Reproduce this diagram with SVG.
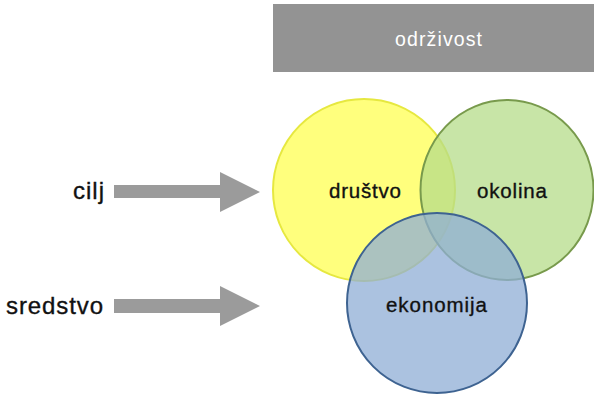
<svg xmlns="http://www.w3.org/2000/svg" width="594" height="395" viewBox="0 0 594 395">
  <style>
    .lbl { font-family: "Liberation Sans", Arial, sans-serif; fill: #111111; stroke: #111111; stroke-width: 0.35px; }
    .side { font-size: 24px; }
    .circ { font-size: 20.5px; }
    .head { font-size: 19.5px; fill: #ffffff; stroke: none; }
    .arrow { fill: #9b9b9b; }
  </style>
  <rect x="0" y="0" width="594" height="395" fill="#ffffff"/>
  <g id="header">
    <rect x="273" y="4" width="321" height="68" fill="#939393"/>
    <text class="lbl head" x="395" y="46" textLength="87" lengthAdjust="spacing">održivost</text>
  </g>
  <g id="drustvo">
    <circle cx="364" cy="190" r="91" fill="#ffff66" fill-opacity="0.85" stroke="#e6e840" stroke-width="2"/>
  </g>
  <g id="okolina">
    <ellipse cx="507" cy="190" rx="86.5" ry="90" fill="#b5dc8a" fill-opacity="0.75" stroke="#789a4c" stroke-width="2"/>
  </g>
  <g id="ekonomija">
    <circle cx="437" cy="303" r="90" fill="#8fadd6" fill-opacity="0.75" stroke="#3e6391" stroke-width="2"/>
  </g>
  <g id="labels">
    <text class="lbl circ" x="329" y="198" textLength="72" lengthAdjust="spacing">društvo</text>
    <text class="lbl circ" x="477" y="198" textLength="70" lengthAdjust="spacing">okolina</text>
    <text class="lbl circ" x="386" y="312" textLength="101" lengthAdjust="spacing">ekonomija</text>
  </g>
  <g id="cilj">
    <text class="lbl side" x="73" y="199" textLength="31" lengthAdjust="spacing">cilj</text>
  </g>
  <g id="sredstvo">
    <text class="lbl side" x="6" y="314" textLength="97" lengthAdjust="spacing">sredstvo</text>
  </g>
  <g id="connectors">
    <polygon class="arrow" points="114,185 220,185 220,172 260,192 220,212 220,198 114,198"/>
    <polygon class="arrow" points="114,299 220,299 220,286 260,306 220,326 220,313 114,313"/>
  </g>
</svg>
